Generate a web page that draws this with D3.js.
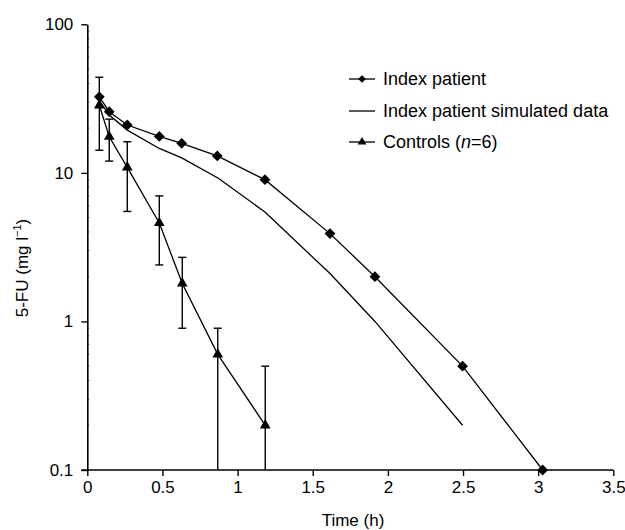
<!DOCTYPE html>
<html>
<head>
<meta charset="utf-8">
<script src="https://d3js.org/d3.v7.min.js"></script>
<style>
  body { margin: 0; background: #fff; }
  text { font-family: Arial, "Liberation Sans", sans-serif; fill: #000; }
</style>
</head>
<body>
<svg id="vis"></svg>
<script>
// data (time in h, 5-FU in mg/l)
var indexTime = [0.08, 0.146, 0.266, 0.479, 0.628, 0.865, 1.182, 1.615, 1.914, 2.497, 3.03];
var indexConc = [32.5, 25.8, 21.0, 17.6, 15.8, 13.0, 9.0, 3.9, 2.0, 0.5, 0.1];

var simTime = [0.08, 0.146, 0.266, 0.479, 0.628, 0.872, 1.182, 1.615, 1.914, 2.497];
var simConc = [30.5, 24.5, 19.4, 14.6, 12.6, 9.2, 5.45, 2.1, 1.0, 0.2];

var ctrlTime = [0.08, 0.146, 0.266, 0.479, 0.632, 0.868, 1.184];
var ctrlConc = [28.5, 17.5, 10.9, 4.6, 1.8, 0.6, 0.2];
var ctrlUpper = [44, 23, 16.2, 7.0, 2.7, 0.9, 0.5];
var ctrlLower = [14.2, 12.0, 5.5, 2.4, 0.9, 0.1, 0.1];

var xTicks = [0, 0.5, 1, 1.5, 2, 2.5, 3, 3.5];
var yTicks = [0.1, 1, 10, 100];

var W = 625, H = 530;
var svg = d3.select("#vis").attr("width", W).attr("height", H);

// scales
var x = d3.scaleLinear().domain([0, 3.5]).range([87.3, 613.3]);
var y = d3.scaleLog().domain([0.1, 100]).range([470, 24.3]);

// minor ticks on y axis (faint, inside)
var minor = [];
[0.1, 1, 10].forEach(function(d) {
  for (var k = 2; k <= 9; k++) minor.push(d * k);
});
svg.append("g").selectAll("line").data(minor).join("line")
  .attr("x1", x(0)).attr("x2", x(0) + 2.5)
  .attr("y1", function(d) { return y(d); })
  .attr("y2", function(d) { return y(d); })
  .attr("stroke", "#999").attr("stroke-width", 0.8);

// axes
var xAxis = d3.axisBottom(x).tickValues(xTicks).tickSize(6).tickSizeOuter(0)
  .tickFormat(function(d) { return d; });
var gx = svg.append("g").attr("transform", "translate(0," + y(0.1) + ")").call(xAxis);
gx.select(".domain").attr("stroke-width", 1.6).attr("d", "M" + (x(0) - 6) + ",0H" + x(3.5));
gx.selectAll(".tick line").attr("stroke-width", 1.4);
gx.selectAll(".tick text").attr("font-size", 17).attr("font-family", "Arial, 'Liberation Sans', sans-serif").attr("y", 11);

var yAxis = d3.axisLeft(y).tickValues(yTicks).tickSize(6).tickSizeOuter(0)
  .tickFormat(function(d) { return d; });
var gy = svg.append("g").attr("transform", "translate(" + x(0) + ",0)").call(yAxis);
gy.select(".domain").attr("stroke-width", 1.6);
gy.selectAll(".tick line").attr("stroke-width", 1.4);
gy.selectAll(".tick text").attr("font-size", 17).attr("font-family", "Arial, 'Liberation Sans', sans-serif").attr("x", -14);

// axis titles
svg.append("text").attr("x", 353).attr("y", 526).attr("text-anchor", "middle")
  .attr("font-size", 17).text("Time (h)");

var yl = svg.append("text").attr("transform", "translate(28,268) rotate(-90)")
  .attr("text-anchor", "middle").attr("font-size", 17);
yl.append("tspan").text("5-FU (mg l");
yl.append("tspan").attr("font-size", 11).attr("dy", -7).text("\u22121");
yl.append("tspan").attr("dy", 7).text(")");

var line = d3.line().x(function(d) { return x(d[0]); }).y(function(d) { return y(d[1]); });

// simulated data (plain line)
svg.append("path").datum(d3.zip(simTime, simConc)).attr("d", line)
  .attr("fill", "none").attr("stroke", "#000").attr("stroke-width", 1.3);

// controls: error bars
var eb = svg.append("g");
ctrlTime.forEach(function(t, i) {
  eb.append("line").attr("x1", x(t)).attr("x2", x(t))
    .attr("y1", y(ctrlUpper[i])).attr("y2", y(ctrlLower[i]))
    .attr("stroke", "#000").attr("stroke-width", 1.4);
  eb.append("line").attr("x1", x(t) - 4).attr("x2", x(t) + 4)
    .attr("y1", y(ctrlUpper[i])).attr("y2", y(ctrlUpper[i]))
    .attr("stroke", "#000").attr("stroke-width", 1.4);
  if (ctrlLower[i] > 0.1) {
    eb.append("line").attr("x1", x(t) - 4).attr("x2", x(t) + 4)
      .attr("y1", y(ctrlLower[i])).attr("y2", y(ctrlLower[i]))
      .attr("stroke", "#000").attr("stroke-width", 1.4);
  }
});

// controls line + triangles
svg.append("path").datum(d3.zip(ctrlTime, ctrlConc)).attr("d", line)
  .attr("fill", "none").attr("stroke", "#000").attr("stroke-width", 1.3);
var tri = d3.symbol().type(d3.symbolTriangle).size(50);
svg.append("g").selectAll("path").data(d3.zip(ctrlTime, ctrlConc)).join("path")
  .attr("d", tri)
  .attr("transform", function(d) { return "translate(" + x(d[0]) + "," + y(d[1]) + ")"; })
  .attr("fill", "#000");

// index patient line + diamonds
svg.append("path").datum(d3.zip(indexTime, indexConc)).attr("d", line)
  .attr("fill", "none").attr("stroke", "#000").attr("stroke-width", 1.3);
var dia = d3.symbol().type(d3.symbolSquare).size(58);
svg.append("g").selectAll("path").data(d3.zip(indexTime, indexConc)).join("path")
  .attr("d", dia)
  .attr("transform", function(d) { return "translate(" + x(d[0]) + "," + y(d[1]) + ") rotate(45)"; })
  .attr("fill", "#000");

// legend
var legend = svg.append("g");
var rows = [
  { y: 79, label: "Index patient", mark: "diamond" },
  { y: 111, label: "Index patient simulated data", mark: null },
  { y: 142, label: "Controls", mark: "triangle" }
];
rows.forEach(function(r) {
  legend.append("line").attr("x1", 349).attr("x2", 375).attr("y1", r.y).attr("y2", r.y)
    .attr("stroke", "#000").attr("stroke-width", 1.3);
  if (r.mark === "diamond") {
    legend.append("path").attr("d", d3.symbol().type(d3.symbolSquare).size(30))
      .attr("transform", "translate(362," + r.y + ") rotate(45)");
  } else if (r.mark === "triangle") {
    legend.append("path").attr("d", d3.symbol().type(d3.symbolTriangle).size(34))
      .attr("transform", "translate(362," + r.y + ")");
  }
  var t = legend.append("text").attr("x", 383).attr("y", r.y + 6).attr("font-size", 18);
  t.append("tspan").text(r.label);
  if (r.mark === "triangle") {
    t.append("tspan").text(" (");
    t.append("tspan").attr("font-style", "italic").text("n");
    t.append("tspan").text("=6)");
  }
});
</script>
</body>
</html>
